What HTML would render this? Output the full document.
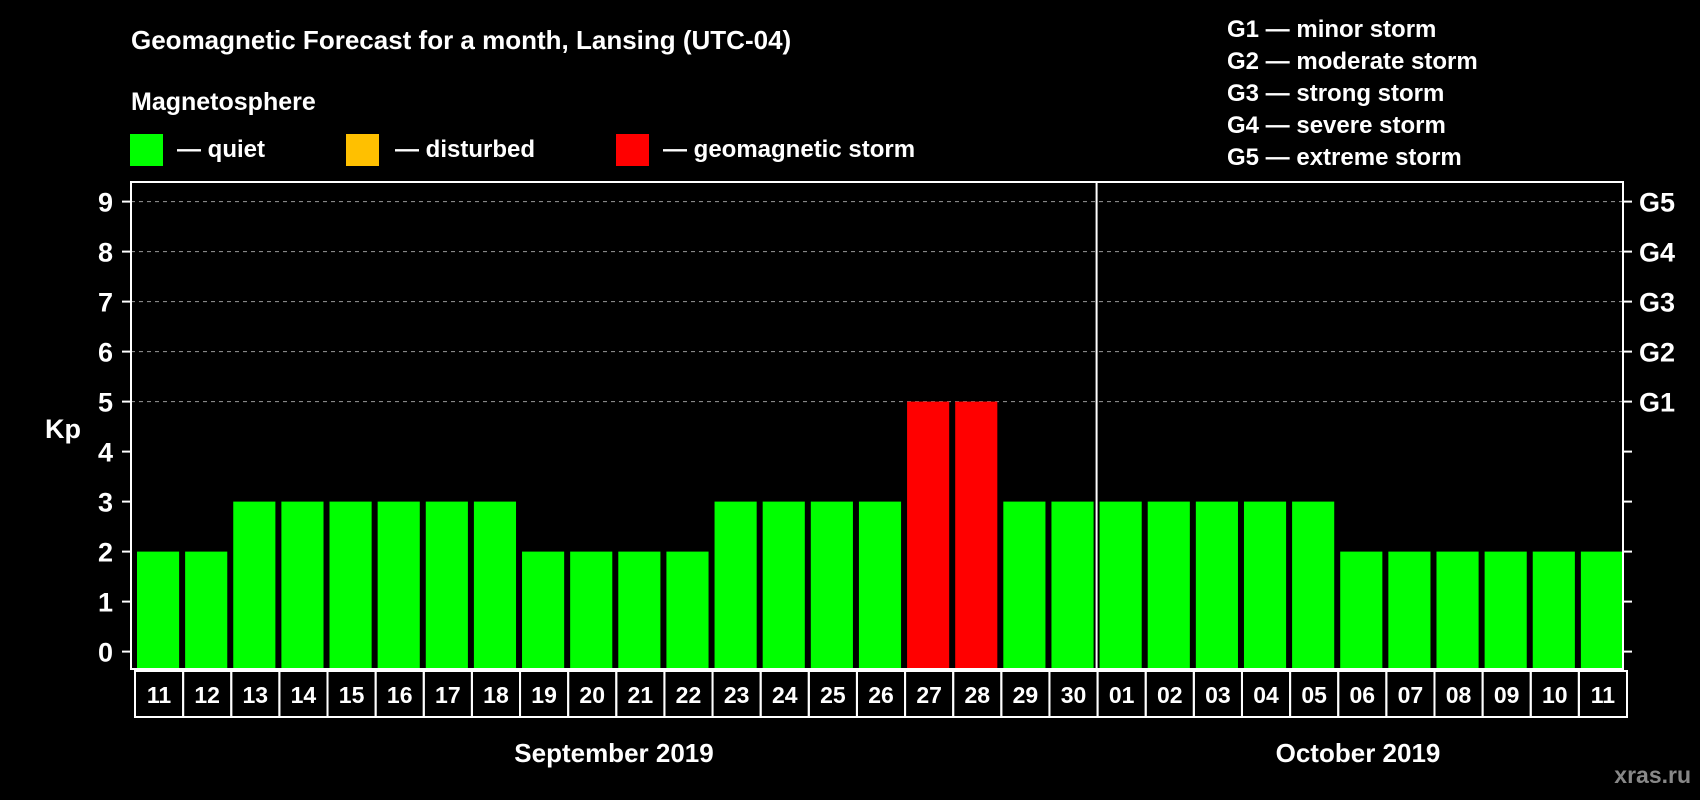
<!DOCTYPE html>
<html><head><meta charset="utf-8"><style>
html,body{margin:0;padding:0;background:#000;}
svg{display:block;font-family:"Liberation Sans",Arial,sans-serif;font-weight:bold;}
</style></head><body>
<svg id="chart" width="1700" height="800" viewBox="0 0 1700 800">
<rect x="0" y="0" width="1700" height="800" fill="#000"/>
<text x="131" y="49" fill="#fff" font-size="26">Geomagnetic Forecast for a month, Lansing (UTC-04)</text>
<text x="131" y="110" fill="#fff" font-size="25">Magnetosphere</text>
<rect x="130" y="134" width="33" height="32" fill="#00ff00"/>
<text x="177" y="157" fill="#fff" font-size="24">— quiet</text>
<rect x="346" y="134" width="33" height="32" fill="#ffc000"/>
<text x="395" y="157" fill="#fff" font-size="24">— disturbed</text>
<rect x="616" y="134" width="33" height="32" fill="#ff0000"/>
<text x="663" y="157" fill="#fff" font-size="24">— geomagnetic storm</text>
<g font-size="24" fill="#fff">
<text x="1227" y="37">G1 — minor storm</text>
<text x="1227" y="69">G2 — moderate storm</text>
<text x="1227" y="101">G3 — strong storm</text>
<text x="1227" y="133">G4 — severe storm</text>
<text x="1227" y="165">G5 — extreme storm</text>
</g>
<text x="63" y="438" fill="#fff" font-size="27" text-anchor="middle">Kp</text>
<g id="grid"></g><g id="bars"></g><g id="axes"></g><g id="labels"></g>
<text x="614" y="762" fill="#fff" font-size="26" text-anchor="middle">September 2019</text>
<text x="1358" y="762" fill="#fff" font-size="26" text-anchor="middle">October 2019</text>
<text x="1691" y="783" fill="#888" font-size="23" text-anchor="end">xras.ru</text>
</svg>
<script>
const days = ["11","12","13","14","15","16","17","18","19","20","21","22","23","24","25","26","27","28","29","30","01","02","03","04","05","06","07","08","09","10","11"];
const kp = [2,2,3,3,3,3,3,3,2,2,2,2,3,3,3,3,5,5,3,3,3,3,3,3,3,2,2,2,2,2,2];
const yTicks = [0,1,2,3,4,5,6,7,8,9];
const gLabels = ["G1","G2","G3","G4","G5"];
const NS="http://www.w3.org/2000/svg";
const L=131,R=1623,T=182,B=669;
const pitch=(R-L)/days.length;
function y(v){return 651.6-50*v;}
function x(i){return L+i*pitch;}
function mk(tag,attrs,parent){const e=document.createElementNS(NS,tag);for(const k in attrs)e.setAttribute(k,attrs[k]);parent.appendChild(e);return e;}
const grid=document.getElementById('grid'),bars=document.getElementById('bars'),axes=document.getElementById('axes'),labels=document.getElementById('labels');
yTicks.forEach(v=>{
  if(v>=5){const g=mk('line',{x1:L,x2:R,y1:y(v),y2:y(v),stroke:'#999','stroke-width':1,'stroke-dasharray':'4,4'},grid);
  
  }
  const t=mk('line',{x1:L-9,x2:L,y1:y(v),y2:y(v),stroke:'#fff','stroke-width':2},axes);
  
  
  const t2=mk('line',{x1:R,x2:R+9,y1:y(v),y2:y(v),stroke:'#fff','stroke-width':2},axes);
  
  
  const lb=mk('text',{x:L-18,y:y(v)+10,fill:'#fff','font-size':27,'text-anchor':'end'},labels);
  lb.textContent=v;
  
  
});
gLabels.forEach((g,i)=>{
  const lb=mk('text',{x:R+16,y:y(5+i)+10,fill:'#fff','font-size':27},labels);
  lb.textContent=g;
  
  
});
kp.forEach((v,i)=>{
  const col=v>=5?'#ff0000':(v>=4?'#ffc000':'#00ff00');
  const b=mk('rect',{x:x(i)+6,y:y(v),width:pitch-6,height:B-y(v),fill:col},bars);
  
  
  const c=mk('rect',{x:x(i)+4,y:B+2,width:pitch,height:46,fill:'none',stroke:'#fff','stroke-width':2},axes);
  
  
  const t=mk('text',{x:x(i)+4+pitch/2,y:B+34,fill:'#fff','font-size':23,'text-anchor':'middle'},labels);
  t.textContent=days[i];
  
  
});
const fr=mk('rect',{x:L,y:T,width:R-L,height:B-T,fill:'none',stroke:'#fff','stroke-width':2},axes);


const dv=mk('line',{x1:x(20)+3,x2:x(20)+3,y1:T,y2:B,stroke:'#fff','stroke-width':2},axes);


</script>
</body></html>
